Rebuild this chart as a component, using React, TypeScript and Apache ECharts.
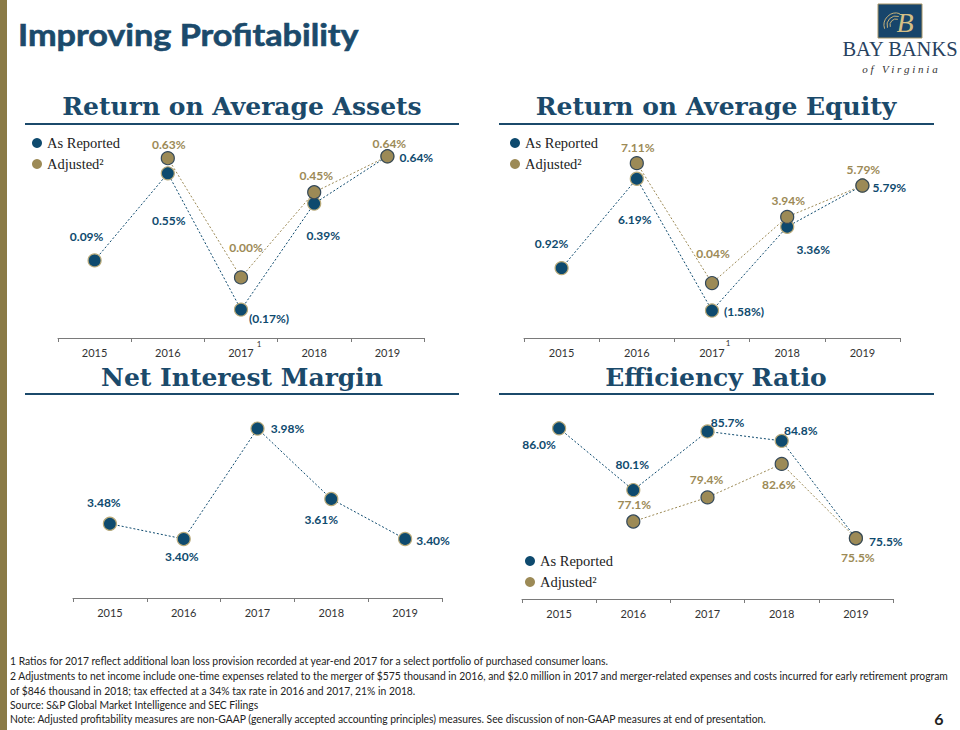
import React, { useEffect, useRef } from "react";
import * as echarts from "echarts";

const years = ["2015", "2016", "2017", "2018", "2019"];
const roaReported = [0.09, 0.55, -0.17, 0.39, 0.64];
const roaAdjusted = [null, 0.63, 0.0, 0.45, 0.64];
const roeReported = [0.92, 6.19, -1.58, 3.36, 5.79];
const roeAdjusted = [null, 7.11, 0.04, 3.94, 5.79];
const nimValues = [3.48, 3.4, 3.98, 3.61, 3.4];
const effReported = [86.0, 80.1, 85.7, 84.8, 75.5];
const effAdjusted = [null, 77.1, 79.4, 82.6, 75.5];

const footnotes = [
  "1 Ratios for 2017 reflect additional loan loss provision recorded at year-end 2017 for a select portfolio of purchased consumer loans.",
  "2 Adjustments to net income include one-time expenses related to the merger of $575 thousand in 2016, and $2.0 million in 2017 and merger-related expenses and costs incurred for early retirement program",
  "of $846 thousand in 2018; tax effected at a 34% tax rate in 2016 and 2017, 21% in 2018.",
  "Source: S&P Global Market Intelligence and SEC Filings",
  "Note: Adjusted profitability measures are non-GAAP (generally accepted accounting principles) measures. See discussion of non-GAAP measures at end of presentation.",
];

// label offsets (styling only)
const roaRepOff = [[-8, -24], [1, 47], [28, 9], [9, 32], [29, 1]];
const roaAdjOff = [null, [1, -14], [5, -30], [2, -17], [2, -13]];
const roeRepOff = [[-10, -25], [-2, 41], [32, 1], [26, 23], [27, 2]];
const roeAdjOff = [null, [1, -16], [1, -30], [1, -16], [1, -16]];
const nimOff = [[-6, -21], [-2, 18], [30, 0], [-10, 20], [28, 2]];
const effRepOff = [[-20, 16], [-1, -26], [20, -9], [19, -10], [30, 3]];
const effAdjOff = [null, [1, -17], [-1, -18], [-3, 21], [2, 19]];

const NAVY = "#0e4a6e";
const GOLD = "#9c8a56";
const TITLE = "#1b4a6b";
const SANS = "Lato, 'Open Sans', sans-serif";
const SERIF = "'DejaVu Serif', serif";
const LSERIF = "'Liberation Serif', serif";

function pct2(v: number) {
  return v < 0 ? "(" + Math.abs(v).toFixed(2) + "%)" : v.toFixed(2) + "%";
}
function pct1(v: number) {
  return v.toFixed(1) + "%";
}

function makeData(vals: (number | null)[], offs: any[]) {
  return vals.map((v, i) =>
    v == null ? null : { value: v, label: { offset: offs[i] } }
  );
}

function lineSeries(
  name: string,
  idx: number,
  vals: (number | null)[],
  offs: any[],
  color: string,
  border: string,
  fmt: (v: number) => string
) {
  return {
    type: "line",
    name,
    xAxisIndex: idx,
    yAxisIndex: idx,
    data: makeData(vals, offs),
    symbol: "circle",
    symbolSize: 13,
    silent: true,
    itemStyle: { color, borderColor: border, borderWidth: 1.2 },
    lineStyle: { color, width: 1, type: [2, 2] },
    label: {
      show: true,
      position: "inside",
      color,
      fontFamily: SANS,
      fontWeight: "bold",
      fontSize: 12,
      formatter: (p: any) => fmt(p.value),
    },
    z: name === "Adjusted" ? 3 : 2,
  };
}

function xAxis(idx: number) {
  return {
    type: "category",
    gridIndex: idx,
    data: years,
    boundaryGap: true,
    axisLine: { show: true, onZero: false, lineStyle: { color: "#7a7a7a", width: 1 } },
    axisTick: { show: true, length: 4, inside: false, lineStyle: { color: "#7a7a7a" } },
    axisLabel: { color: "#333", fontFamily: SANS, fontSize: 11, margin: 9 },
    splitLine: { show: false },
  };
}

function yAxis(idx: number, min: number, max: number) {
  return { type: "value", gridIndex: idx, min, max, show: false, splitLine: { show: false } };
}

function legend(left: number, top: number) {
  return {
    left,
    top,
    orient: "vertical",
    icon: "circle",
    itemWidth: 10,
    itemHeight: 10,
    itemGap: 5,
    selectedMode: false,
    data: ["As Reported", "Adjusted"],
    formatter: (n: string) => (n === "Adjusted" ? "Adjusted²" : n),
    itemStyle: { borderWidth: 0 },
    textStyle: { fontFamily: LSERIF, fontSize: 14.5, color: "#222", lineHeight: 16 },
  };
}

function text(x: number, y: number, t: string, style: any, extra: any = {}) {
  return {
    type: "text",
    x,
    y,
    silent: true,
    ...extra,
    style: { text: t, textVerticalAlign: "middle", ...style },
  };
}

export default function App() {
  const ref = useRef<HTMLDivElement>(null);
  useEffect(() => {
    if (!ref.current) return;
    const chart = echarts.init(ref.current, null, { renderer: "svg" });

    const graphic: any[] = [
      { type: "rect", shape: { x: 0, y: 0, width: 7, height: 730 }, style: { fill: "#8a7a46" }, silent: true },
      text(
        18,
        34,
        "Improving Profitability",
        {
          fill: TITLE,
          font: "bold 30px " + SANS,
          textAlign: "left",
          stroke: TITLE,
          lineWidth: 0.6,
          shadowColor: "rgba(0,0,0,0.35)",
          shadowBlur: 3,
          shadowOffsetX: 2,
          shadowOffsetY: 2,
        },
        { scaleX: 1.14 }
      ),
      // logo
      { type: "rect", shape: { x: 878, y: 4, width: 44, height: 34 }, style: { fill: "#17456b", stroke: "#a89566", lineWidth: 1 }, silent: true },
      { type: "arc", shape: { cx: 896, cy: 25, r: 6, startAngle: Math.PI * 0.9, endAngle: Math.PI * 1.6 }, style: { stroke: "#c8b27a", lineWidth: 1, fill: null }, silent: true },
      { type: "arc", shape: { cx: 896, cy: 25, r: 9, startAngle: Math.PI * 0.9, endAngle: Math.PI * 1.6 }, style: { stroke: "#c8b27a", lineWidth: 1, fill: null }, silent: true },
      { type: "arc", shape: { cx: 896, cy: 25, r: 12, startAngle: Math.PI * 0.9, endAngle: Math.PI * 1.6 }, style: { stroke: "#c8b27a", lineWidth: 1, fill: null }, silent: true },
      text(905, 22, "B", { fill: "#d4bf86", font: "italic 28px " + LSERIF, textAlign: "center" }),
      text(900, 49, "BAY BANKS", { fill: "#27415e", font: "20.5px " + LSERIF, textAlign: "center" }),
      text(900, 69, "o f   V i r g i n i a", { fill: "#333", font: "italic 11px " + LSERIF, textAlign: "center" }),
      // section titles
      text(242, 106, "Return on Average Assets", { fill: TITLE, font: "bold 25px " + SERIF, textAlign: "center" }),
      text(716, 106, "Return on Average Equity", { fill: TITLE, font: "bold 25px " + SERIF, textAlign: "center" }),
      text(242, 377, "Net Interest Margin", { fill: TITLE, font: "bold 25px " + SERIF, textAlign: "center" }),
      text(716, 377, "Efficiency Ratio", { fill: TITLE, font: "bold 25px " + SERIF, textAlign: "center" }),
      { type: "line", shape: { x1: 25, y1: 124, x2: 459, y2: 124 }, style: { stroke: TITLE, lineWidth: 2 }, silent: true },
      { type: "line", shape: { x1: 499, y1: 124, x2: 934, y2: 124 }, style: { stroke: TITLE, lineWidth: 2 }, silent: true },
      { type: "line", shape: { x1: 25, y1: 394, x2: 459, y2: 394 }, style: { stroke: TITLE, lineWidth: 2 }, silent: true },
      { type: "line", shape: { x1: 499, y1: 394, x2: 934, y2: 394 }, style: { stroke: TITLE, lineWidth: 2 }, silent: true },
      // superscripts on 2017
      text(259, 344, "1", { fill: "#333", font: "8px " + SANS, textAlign: "center" }),
      text(728, 343, "1", { fill: "#333", font: "8px " + SANS, textAlign: "center" }),
      // page number
      text(939, 718, "6", { fill: "#222", font: "bold 16px " + SANS, textAlign: "center" }),
    ];
    const fy = [661, 676, 691, 705, 719];
    footnotes.forEach((f, i) => {
      graphic.push(
        text(10, fy[i], f, { fill: "#222", font: "10.5px " + SANS, textAlign: "left" }, { scaleX: 0.985 })
      );
    });

    const option: any = {
      animation: false,
      backgroundColor: "#ffffff",
      grid: [
        { left: 58, top: 126, width: 366, height: 212 },
        { left: 524, top: 126, width: 376, height: 212 },
        { left: 73, top: 400, width: 369, height: 198 },
        { left: 522, top: 400, width: 371, height: 199 },
      ],
      xAxis: [xAxis(0), xAxis(1), xAxis(2), xAxis(3)],
      yAxis: [yAxis(0, -0.32, 0.8), yAxis(1, -3.2, 9.3), yAxis(2, 3.09, 4.13), yAxis(3, 69.7, 88.7)],
      legend: [legend(27, 130), legend(505, 130), legend(520, 548)],
      series: [
        lineSeries("As Reported", 0, roaReported, roaRepOff, NAVY, "#b8a978", pct2),
        lineSeries("Adjusted", 0, roaAdjusted, roaAdjOff, GOLD, "#34495a", pct2),
        lineSeries("As Reported", 1, roeReported, roeRepOff, NAVY, "#b8a978", pct2),
        lineSeries("Adjusted", 1, roeAdjusted, roeAdjOff, GOLD, "#34495a", pct2),
        lineSeries("Net Interest Margin", 2, nimValues, nimOff, NAVY, "#b8a978", pct2),
        lineSeries("As Reported", 3, effReported, effRepOff, NAVY, "#b8a978", pct1),
        lineSeries("Adjusted", 3, effAdjusted, effAdjOff, GOLD, "#34495a", pct1),
      ],
      graphic,
    };
    chart.setOption(option);
    return () => chart.dispose();
  }, []);
  return (
    <div
      ref={ref}
      style={{ position: "absolute", left: 0, top: 0, width: 960, height: 730, background: "#fff" }}
    />
  );
}
